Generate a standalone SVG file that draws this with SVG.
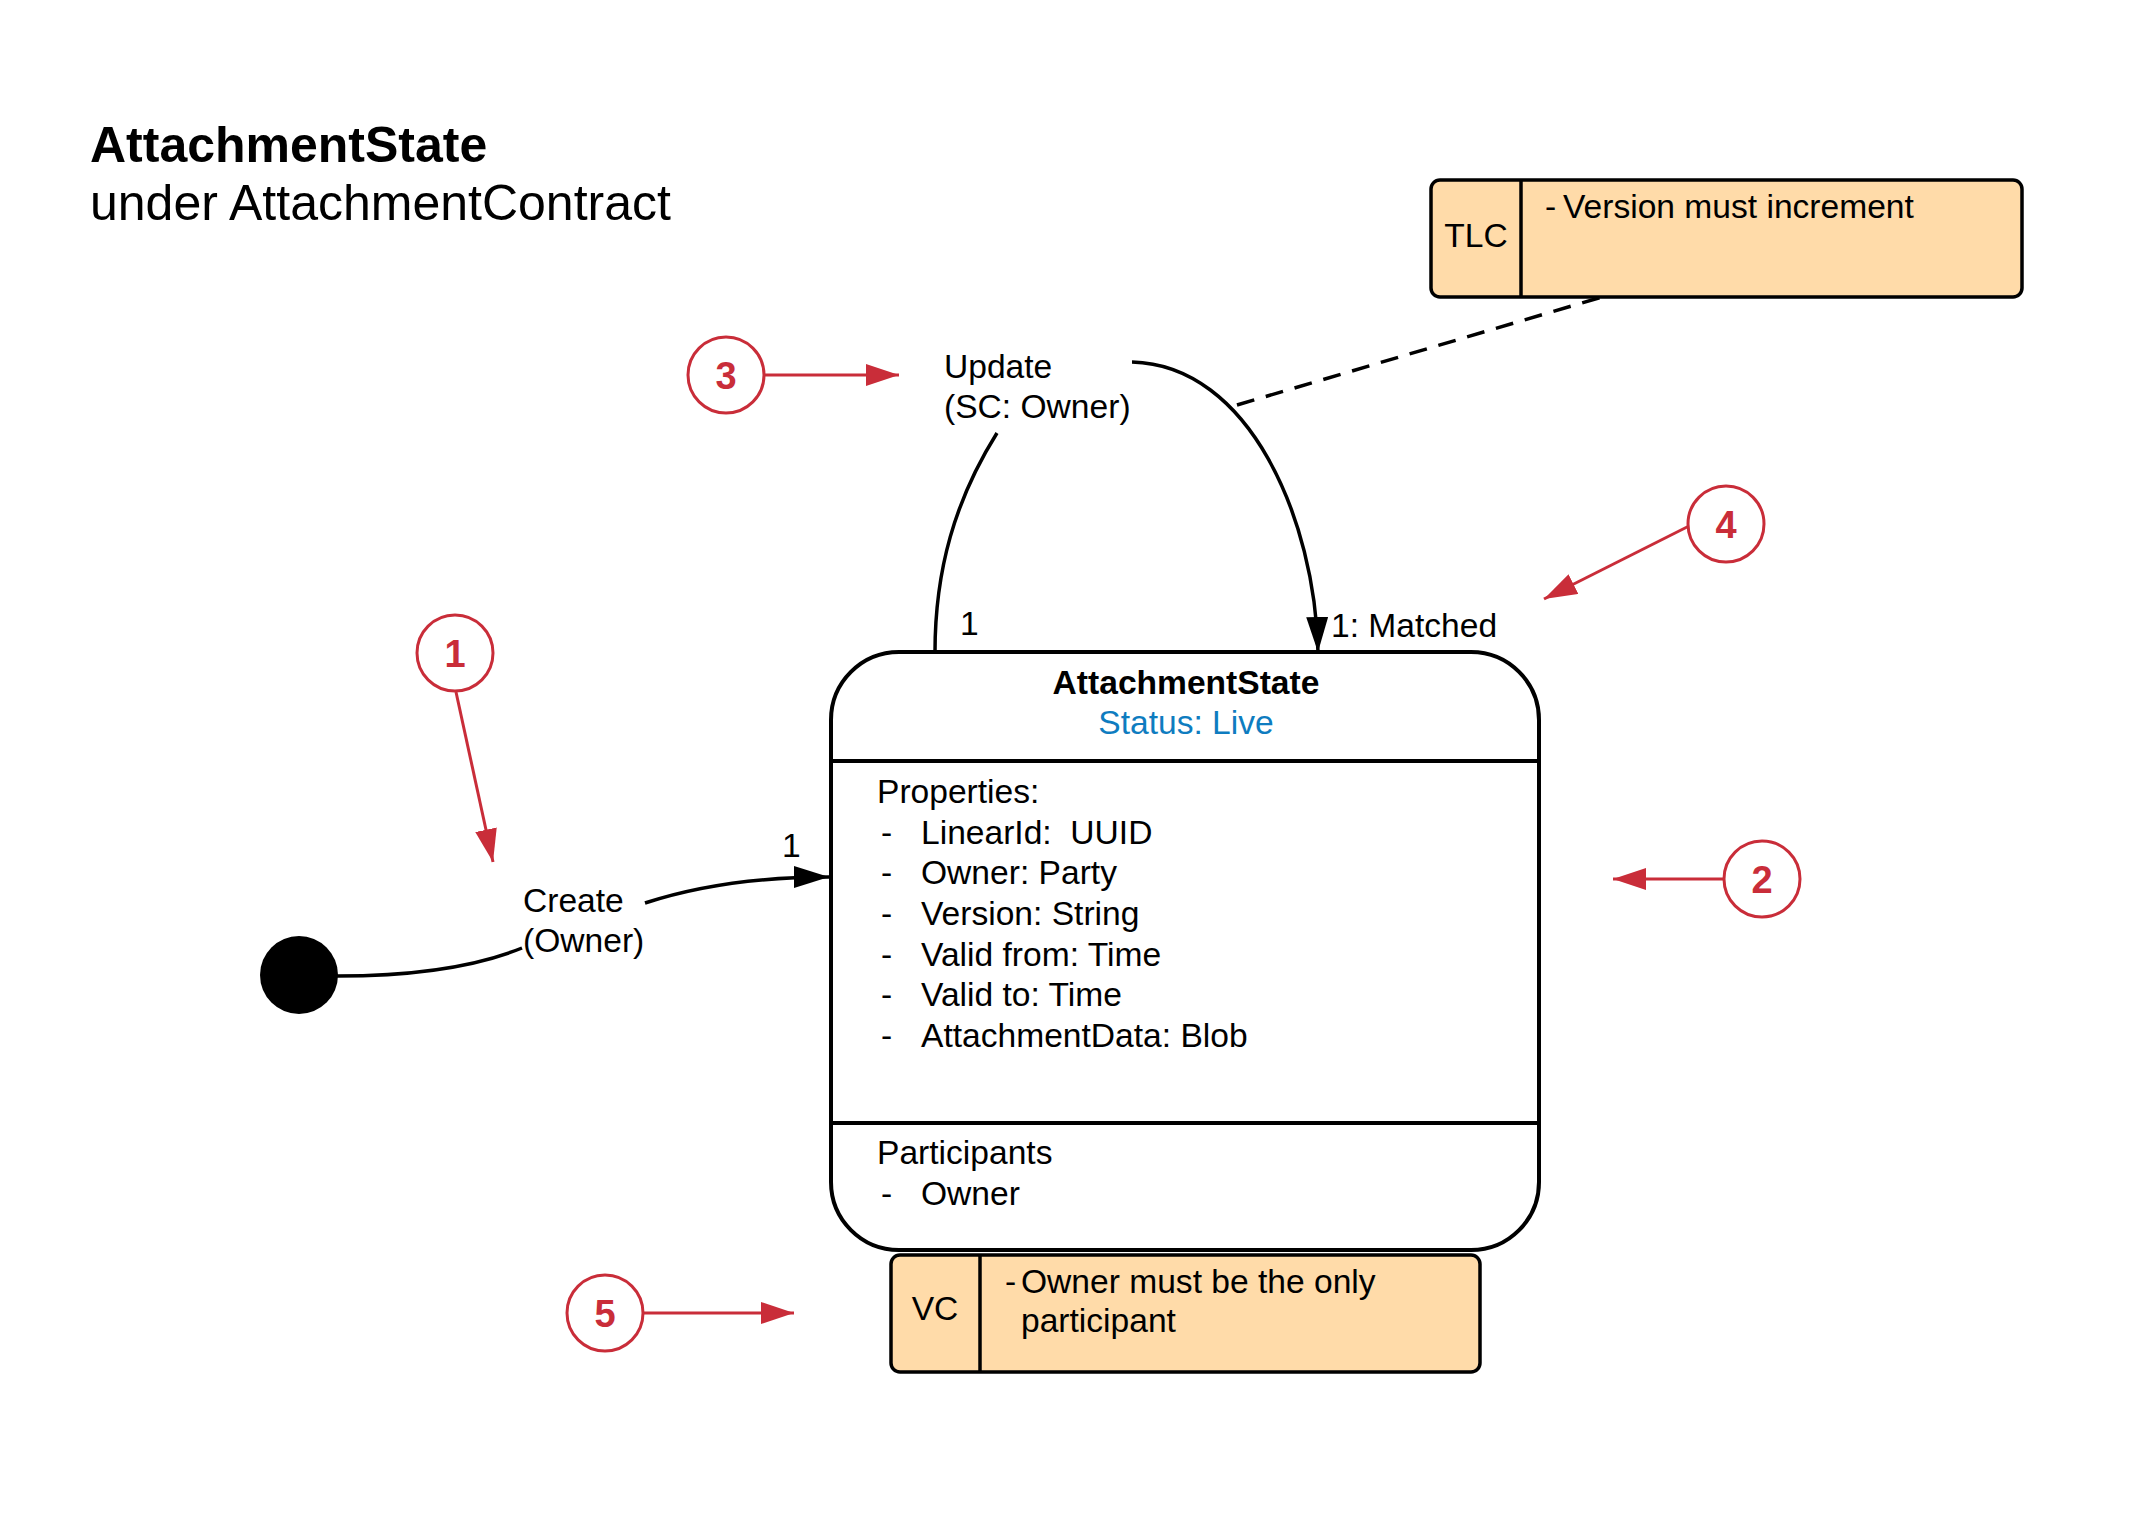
<svg xmlns="http://www.w3.org/2000/svg" width="2130" height="1530" viewBox="0 0 2130 1530">
<defs>
<style>
text{font-family:"Liberation Sans",Arial,sans-serif;fill:#000}
.t{font-size:33.6px}
.title{font-size:50px}
.b{font-weight:bold}
.num{font-size:38px;font-weight:bold;fill:#c92d39;text-anchor:middle}
.badge{fill:#fff;stroke:#c92d39;stroke-width:3}
.red{stroke:#c92d39;stroke-width:3;fill:none;marker-end:url(#ra)}
.conn{stroke:#000;stroke-width:3.5;fill:none}
.note{fill:#ffdba9;stroke:#000;stroke-width:3.5}
.mid{text-anchor:middle}
</style>
<marker id="ra" markerUnits="userSpaceOnUse" markerWidth="34" markerHeight="24" refX="33" refY="11" orient="auto">
<path d="M0,0 L33,11 L0,22 z" fill="#c92d39"/>
</marker>
<marker id="ba" markerUnits="userSpaceOnUse" markerWidth="36" markerHeight="24" refX="35" refY="11" orient="auto">
<path d="M0,0 L35,11 L0,22 z" fill="#000"/>
</marker>
</defs>
<rect width="2130" height="1530" fill="#fff"/>

<g id="title">
<text class="title b" x="90" y="162">AttachmentState</text>
<text class="title" x="90" y="220">under AttachmentContract</text>
</g>

<g id="connectors">
<path class="conn" d="M337,976 C420,976 480,965 522,948"/>
<path class="conn" marker-end="url(#ba)" d="M645,903 C700,885 760,877 829,877"/>
<path class="conn" d="M997,433 C955,500 935,570 935,652"/>
<path class="conn" marker-end="url(#ba)" d="M1132,362 C1250,365 1315,520 1318,652"/>
<path d="M1237,405 L1602,297" stroke="#000" stroke-width="3.5" stroke-dasharray="18,12" fill="none"/>
<text class="t" x="782" y="857">1</text>
<text class="t" x="960" y="635">1</text>
<text class="t" x="1331" y="637">1: Matched</text>
<text class="t" x="523" y="912">Create</text>
<text class="t" x="523" y="952">(Owner)</text>
<text class="t" x="944" y="378">Update</text>
<text class="t" x="944" y="418">(SC: Owner)</text>
</g>

<g id="initial">
<circle cx="299" cy="975" r="39" fill="#000"/>
</g>

<g id="state">
<rect x="831" y="652" width="708" height="598" rx="68" ry="68" fill="#fff" stroke="#000" stroke-width="4"/>
<line x1="831" y1="761" x2="1539" y2="761" stroke="#000" stroke-width="4"/>
<line x1="831" y1="1123" x2="1539" y2="1123" stroke="#000" stroke-width="4"/>
<text class="t b mid" x="1186" y="694">AttachmentState</text>
<text class="t mid" x="1186" y="734" style="fill:#0e7cc0">Status: Live</text>
<text class="t" x="877" y="803">Properties:</text>
<text class="t" x="881" y="844">-</text><text class="t" x="921" y="844">LinearId:&#160; UUID</text>
<text class="t" x="881" y="884">-</text><text class="t" x="921" y="884">Owner: Party</text>
<text class="t" x="881" y="925">-</text><text class="t" x="921" y="925">Version: String</text>
<text class="t" x="881" y="966">-</text><text class="t" x="921" y="966">Valid from: Time</text>
<text class="t" x="881" y="1006">-</text><text class="t" x="921" y="1006">Valid to: Time</text>
<text class="t" x="881" y="1047">-</text><text class="t" x="921" y="1047">AttachmentData: Blob</text>
<text class="t" x="877" y="1164">Participants</text>
<text class="t" x="881" y="1205">-</text><text class="t" x="921" y="1205">Owner</text>
</g>

<g id="tlc">
<rect class="note" x="1431" y="180" width="591" height="117" rx="9"/>
<line x1="1521" y1="180" x2="1521" y2="297" stroke="#000" stroke-width="3.5"/>
<text class="t mid" x="1476" y="247">TLC</text>
<text class="t" x="1545" y="218">-</text>
<text class="t" x="1563" y="218">Version must increment</text>
</g>

<g id="vc">
<rect class="note" x="891" y="1255" width="589" height="117" rx="9"/>
<line x1="980" y1="1255" x2="980" y2="1372" stroke="#000" stroke-width="3.5"/>
<text class="t mid" x="935" y="1320">VC</text>
<text class="t" x="1005" y="1293">-</text>
<text class="t" x="1021" y="1293">Owner must be the only</text>
<text class="t" x="1021" y="1332">participant</text>
</g>

<g id="badge1">
<path class="red" d="M456,692 L493,862"/>
<circle class="badge" cx="455" cy="653" r="38"/>
<text class="num" x="455" y="667">1</text>
</g>
<g id="badge2">
<path class="red" d="M1724,879 L1613,879"/>
<circle class="badge" cx="1762" cy="879" r="38"/>
<text class="num" x="1762" y="893">2</text>
</g>
<g id="badge3">
<path class="red" d="M764,375 L899,375"/>
<circle class="badge" cx="726" cy="375" r="38"/>
<text class="num" x="726" y="389">3</text>
</g>
<g id="badge4">
<path class="red" d="M1691,525 L1544,599"/>
<circle class="badge" cx="1726" cy="524" r="38"/>
<text class="num" x="1726" y="538">4</text>
</g>
<g id="badge5">
<path class="red" d="M643,1313 L794,1313"/>
<circle class="badge" cx="605" cy="1313" r="38"/>
<text class="num" x="605" y="1327">5</text>
</g>
</svg>
